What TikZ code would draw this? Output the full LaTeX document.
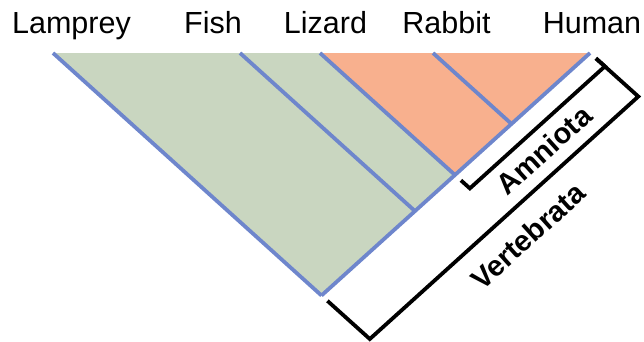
\documentclass[tikz,border=0pt]{standalone}
\usepackage{fontspec}
\setmainfont{Liberation Sans}
\usetikzlibrary{calc}
\definecolor{branchblue}{RGB}{110,134,204}
\definecolor{vgreen}{RGB}{201,214,192}
\definecolor{aorange}{RGB}{248,176,142}
\begin{document}
\begin{tikzpicture}[x=1pt,y=-1pt,
  taxon/.style={anchor=base, font=\fontsize{30.5}{36}\selectfont, inner sep=0pt},
  branch/.style={draw=branchblue, line width=3.8pt},
  bracket/.style={draw=black, line width=3.8pt, line join=miter},
  clade/.style={font=\fontsize{29}{34}\selectfont\bfseries, rotate=42.1, inner sep=0pt}]
\useasboundingbox (0,0) rectangle (644,341);
% tips and internal nodes
\coordinate (tL) at (53,53);
\coordinate (tF) at (240,53);
\coordinate (tZ) at (320,53);
\coordinate (tR) at (433,53);
\coordinate (tH) at (590,53);
\coordinate (root) at (321.5,295.5);
\coordinate (nF) at (415,211.1);
\coordinate (nZ) at (455,175);
\coordinate (nR) at (511.5,123.9);
% shaded clades
\fill[vgreen] (tL) -- (tZ) -- (nZ) -- (root) -- cycle;
\fill[aorange] (tZ) -- (tH) -- (nZ) -- cycle;
% branches
\draw[branch] (tL) -- (root);
\draw[branch] (tF) -- (nF);
\draw[branch] (tZ) -- (nZ);
\draw[branch] (tR) -- (nR);
\draw[branch] (tH) -- (root);
% labels
\node[taxon] (lamprey) at (71.5,33) {Lamprey};
\node[taxon] (fish) at (213,33) {Fish};
\node[taxon] (lizard) at (325.5,33) {Lizard};
\node[taxon] (rabbit) at (446.5,33) {Rabbit};
\node[taxon] (human) at (592,33) {Human};
% brackets
\coordinate (a1) at ($(nZ)+(5.94,5.35)$);
\coordinate (a2) at ($(nZ)+(14.86,13.38)$);
\coordinate (a3) at ($(tH)+(14.86,13.38)$);
\coordinate (a4) at ($(tH)+(5.94,5.35)$);
\coordinate (v1) at ($(root)+(5.94,5.35)$);
\coordinate (v2) at ($(root)+(48.3,43.5)$);
\coordinate (v3) at ($(tH)+(48.3,43.5)$);
\coordinate (v4) at ($(tH)+(5.94,5.35)$);
\draw[bracket] (a1) -- (a2) -- (a3) -- (a4);
\draw[bracket] (v1) -- (v2) -- (v3) -- (v4);
\node[clade] (amniota) at (544,150) {Amniota};
\node[clade] (vertebrata) at (528,236) {Vertebrata};
\end{tikzpicture}
\end{document}
